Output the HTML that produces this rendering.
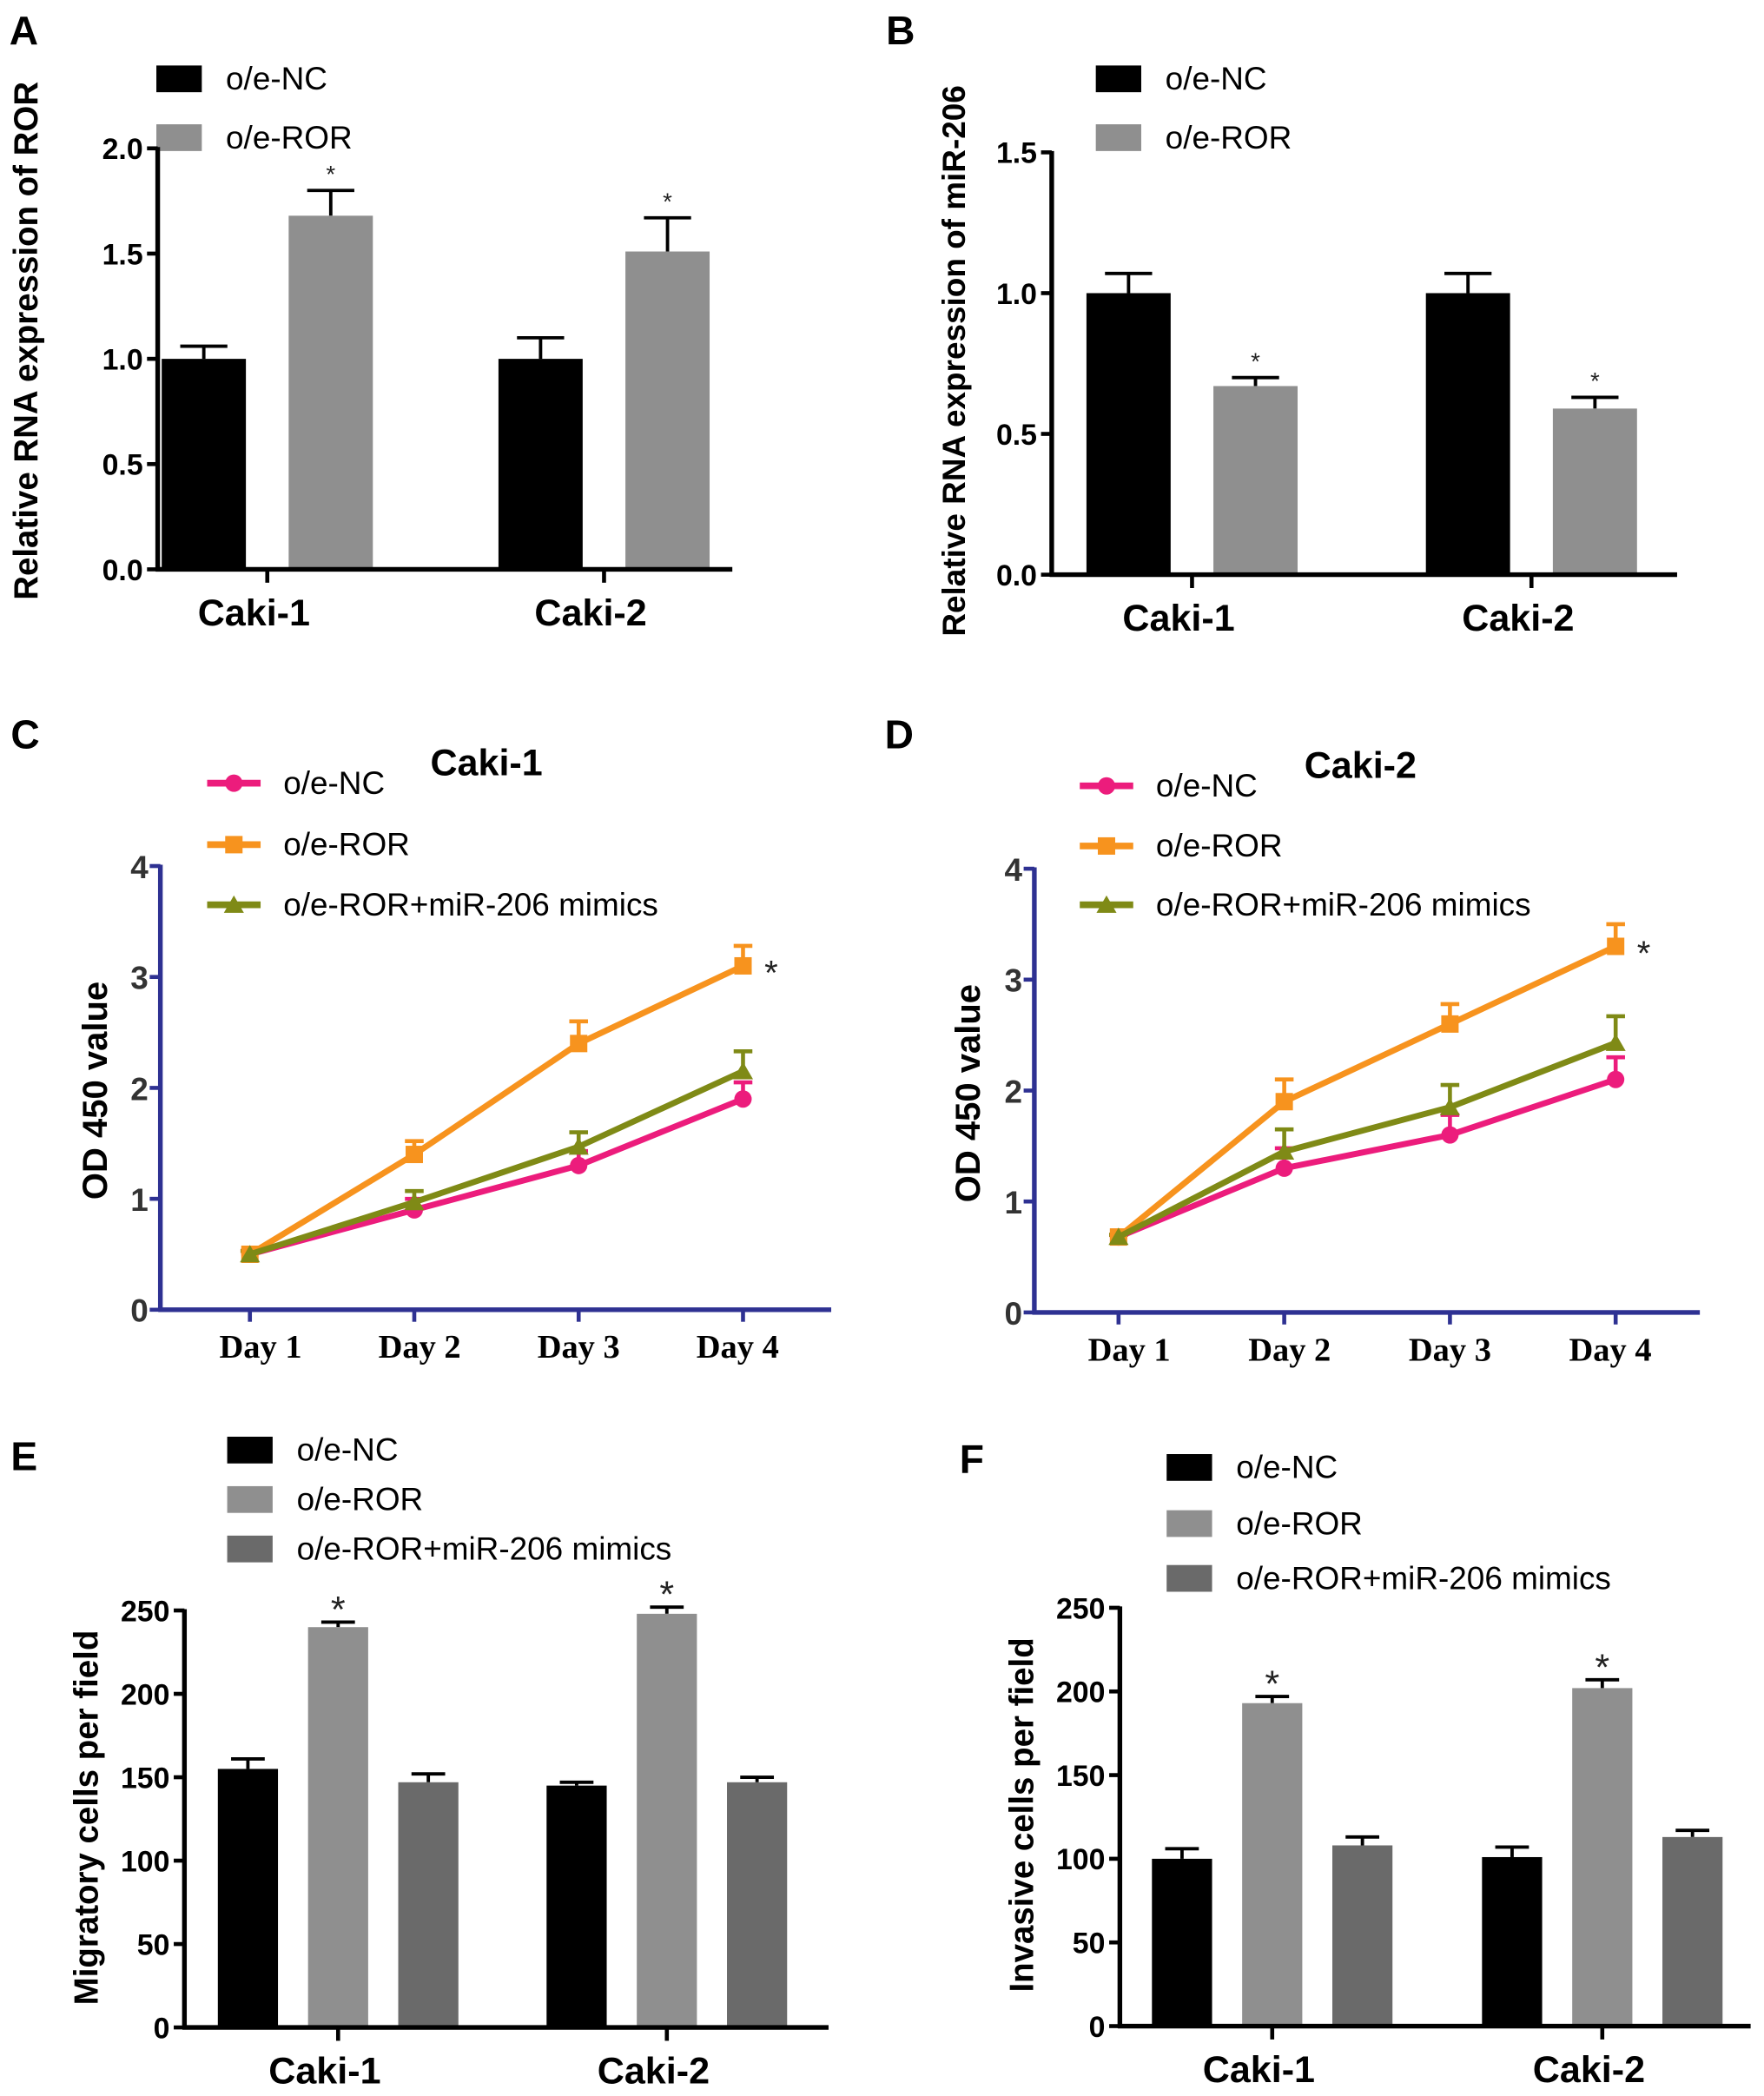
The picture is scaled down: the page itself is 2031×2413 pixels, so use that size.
<!DOCTYPE html>
<html><head><meta charset="utf-8"><style>
html,body{margin:0;padding:0;background:#fff;}
svg{display:block;}
text{font-family:"Liberation Sans",Arial,sans-serif;}
</style></head><body>
<svg id="fig" xmlns="http://www.w3.org/2000/svg" width="2031" height="2413" viewBox="0 0 1320 1568.3"></svg>
<script>
// ---------- Data ----------
const barCats = ["Caki-1", "Caki-2"];
const aTicks = [0, 0.5, 1.0, 1.5, 2.0];
const aNC = [1.0, 1.0];
const aNCErr = [0.06, 0.10];
const aROR = [1.68, 1.51];
const aRORErr = [0.12, 0.16];
const bTicks = [0, 0.5, 1.0, 1.5];
const bNC = [1.0, 1.0];
const bNCErr = [0.07, 0.07];
const bROR = [0.67, 0.59];
const bRORErr = [0.03, 0.04];
const days = ["Day 1", "Day 2", "Day 3", "Day 4"];
const odTicks = [0, 1, 2, 3, 4];
const cNC = [0.5, 0.9, 1.3, 1.9];
const cNCErr = [0.03, 0.1, 0.13, 0.15];
const cROR = [0.5, 1.4, 2.4, 3.1];
const cRORErr = [0.03, 0.12, 0.2, 0.18];
const cMim = [0.5, 0.97, 1.47, 2.15];
const cMimErr = [0.03, 0.1, 0.13, 0.18];
const dNC = [0.68, 1.3, 1.6, 2.1];
const dNCErr = [0.02, 0.18, 0.18, 0.2];
const dROR = [0.68, 1.9, 2.6, 3.3];
const dRORErr = [0.02, 0.2, 0.18, 0.2];
const dMim = [0.68, 1.45, 1.85, 2.43];
const dMimErr = [0.02, 0.2, 0.2, 0.24];
const cellTicks = [0, 50, 100, 150, 200, 250];
const eNC = [155, 145];
const eNCErr = [6, 2];
const eROR = [240, 248];
const eRORErr = [3, 4];
const eMim = [147, 147];
const eMimErr = [5, 3];
const fNC = [100, 101];
const fNCErr = [6, 6];
const fROR = [193, 202];
const fRORErr = [4, 5];
const fMim = [108, 113];
const fMimErr = [5, 4];

const NS = "http://www.w3.org/2000/svg";
const svg = document.getElementById("fig");
function mk(tag, attrs, parent) {
  const e = document.createElementNS(NS, tag);
  for (const k in attrs) e.setAttribute(k, attrs[k]);
  (parent || svg).appendChild(e);
  return e;
}
function txt(s, attrs, parent) { const t = mk("text", attrs, parent); t.textContent = s; return t; }

function panelLetter(ch, x, y) {
  const t = txt(ch, {x: x, y: y, "font-size": 30, "font-weight": "bold"});
  
  
}

// ---------- Bar chart ----------
function barChart(p) {
  const g = mk("g", {});
  
  
  const y = v => p.y0 - (v - p.ticks[0]) / (p.ticks[p.ticks.length - 1] - p.ticks[0]) * (p.y0 - p.yTop);
  p.series.forEach((s, i) => {
    const r = mk("rect", {x: p.legX, y: p.legY[i] - 10, width: 34, height: 20, fill: s.color}, g);
    
    
    const t = txt(s.label, {x: p.legX + 52, y: p.legY[i] + 8, "font-size": 24}, g);
    
    
  });
  const n = p.series.length;
  p.centers.forEach((cx, ci) => {
    p.series.forEach((s, si) => {
      const bx = cx + (si - (n - 1) / 2) * p.pitch - p.bw / 2;
      const v = s.values[ci], e = s.err[ci];
      const ey = y(v + e);
      const el = mk("line", {x1: bx + p.bw / 2, x2: bx + p.bw / 2, y1: y(v), y2: ey, stroke: "#000", "stroke-width": 2.5}, g);
      
      
      const ec = mk("line", {x1: bx + p.bw / 2 - p.bw * 0.28, x2: bx + p.bw / 2 + p.bw * 0.28, y1: ey, y2: ey, stroke: "#000", "stroke-width": 2.5}, g);
      
      
      const b = mk("rect", {x: bx, y: y(v), width: p.bw, height: p.y0 - y(v), fill: s.color}, g);
      
      
      if (s.star) {
        const st = txt("*", {x: bx + p.bw / 2, y: ey - p.starGap, "font-size": p.starSize, "text-anchor": "middle", fill: "#222"}, g);
        
        
      }
    });
    const tk = mk("line", {x1: cx, x2: cx, y1: p.y0, y2: p.y0 + 10, stroke: "#000", "stroke-width": 3}, g);
    
    
    const cl = txt(barCats[ci], {x: cx - 10, y: p.y0 + 42, "font-size": 28, "font-weight": "bold", "text-anchor": "middle"}, g);
    
    
  });
  const ya = mk("line", {x1: p.x0, x2: p.x0, y1: p.yTop - 1, y2: p.y0 + 1.5, stroke: "#000", "stroke-width": 3.5}, g);
  
  
  const xa = mk("line", {x1: p.x0 - 1.5, x2: p.xEnd, y1: p.y0, y2: p.y0, stroke: "#000", "stroke-width": 3.5}, g);
  
  
  p.ticks.forEach(t => {
    const l = mk("line", {x1: p.x0 - 8, x2: p.x0, y1: y(t), y2: y(t), stroke: "#000", "stroke-width": 3}, g);
    
    
    const lab = txt(p.fmt(t), {x: p.x0 - 11, y: y(t) + 8, "font-size": 22, "font-weight": "bold", "text-anchor": "end"}, g);
    
    
  });
  const yt = txt(p.ytitle, {x: 0, y: 0, "font-size": p.ytSize, "font-weight": "bold", "text-anchor": "middle", transform: "translate(" + p.ytX + "," + p.ytY + ") rotate(-90)"}, g);
  
  
}

// ---------- Line chart ----------
function lineChart(p) {
  const g = mk("g", {});
  
  
  const navy = "#2e3192";
  const y = v => p.y0 - v / 4 * (p.y0 - p.yTop);
  const x = i => p.xs0 + i * p.step;
  const tt = txt(p.title, {x: p.titleX, y: p.titleY, "font-size": 28, "font-weight": "bold"}, g);
  
  
  function marker(kind, cx, cy, color, parent) {
    if (kind === "circle") return mk("circle", {cx: cx, cy: cy, r: 6.5, fill: color}, parent);
    if (kind === "square") return mk("rect", {x: cx - 6.5, y: cy - 6.5, width: 13, height: 13, fill: color}, parent);
    return mk("polygon", {points: (cx) + "," + (cy - 7) + " " + (cx - 7.5) + "," + (cy + 6) + " " + (cx + 7.5) + "," + (cy + 6), fill: color}, parent);
  }
  p.series.forEach((s, i) => {
    const ly = p.legY[i];
    const l = mk("line", {x1: p.legX, x2: p.legX + 40, y1: ly, y2: ly, stroke: s.color, "stroke-width": 5}, g);
    
    
    const m = marker(s.marker, p.legX + 20, ly, s.color, g);
    
    
    const t = txt(s.label, {x: p.legX + 57, y: ly + 8, "font-size": 24}, g);
    
    
  });
  p.series.forEach(s => {
    s.values.forEach((v, i) => {
      const ey = y(v + s.err[i]);
      const e1 = mk("line", {x1: x(i), x2: x(i), y1: y(v), y2: ey, stroke: s.color, "stroke-width": 3}, g);
      
      
      const e2 = mk("line", {x1: x(i) - 7, x2: x(i) + 7, y1: ey, y2: ey, stroke: s.color, "stroke-width": 3}, g);
      
      
    });
  });
  p.series.forEach(s => {
    const pts = s.values.map((v, i) => x(i) + "," + y(v)).join(" ");
    const pl = mk("polyline", {points: pts, fill: "none", stroke: s.color, "stroke-width": 4.5, "stroke-linejoin": "round"}, g);
    
    
    s.values.forEach((v, i) => {
      const m = marker(s.marker, x(i), y(v), s.color, g);
      
      
    });
  });
  const rs = p.series[1];
  const st = txt("*", {x: x(3) + 16, y: y(rs.values[3]) + 14, "font-size": 26, fill: "#222"}, g);
  
  
  const ya = mk("line", {x1: p.x0, x2: p.x0, y1: p.yTop - 1, y2: p.y0 + 1.5, stroke: navy, "stroke-width": 3.5}, g);
  
  
  const xa = mk("line", {x1: p.x0 - 1.5, x2: p.xEnd, y1: p.y0, y2: p.y0, stroke: navy, "stroke-width": 3.5}, g);
  
  
  odTicks.forEach(t => {
    const l = mk("line", {x1: p.x0 - 8, x2: p.x0, y1: y(t), y2: y(t), stroke: navy, "stroke-width": 3}, g);
    
    
    const lab = txt(String(t), {x: p.x0 - 9, y: y(t) + 9, "font-size": 24, "font-weight": "bold", "text-anchor": "end", fill: "#333"}, g);
    
    
  });
  days.forEach((d, i) => {
    const l = mk("line", {x1: x(i), x2: x(i), y1: p.y0, y2: p.y0 + 9, stroke: navy, "stroke-width": 3}, g);
    
    
    const lab = txt(d, {x: x(i) + 8 - i * 4, y: p.y0 + 36, "font-size": 25, "font-weight": "bold", "text-anchor": "middle", style: "font-family:'Liberation Serif',serif"}, g);
    
    
  });
  const yt = txt("OD 450 value", {x: 0, y: 0, "font-size": 26, "font-weight": "bold", "text-anchor": "middle", transform: "translate(" + p.ytX + "," + ((p.y0 + p.yTop) / 2 + 2) + ") rotate(-90)"}, g);
  
  
}

const BLACK = "#000", GRAY = "#8f8f8f", DGRAY = "#6a6a6a";
const f1 = t => t.toFixed(1), f0 = t => String(t);

panelLetter("A", 7, 33);
barChart({name: "panel-a-chart", x0: 118, xEnd: 548, y0: 426, yTop: 111, ticks: aTicks, fmt: f1,
  centers: [200, 452], pitch: 95, bw: 63, legX: 117, legY: [59, 103], starGap: 6, starSize: 18,
  ytitle: "Relative RNA expression of ROR", ytX: 28, ytY: 255, ytSize: 25,
  series: [{key: "oe-nc", label: "o/e-NC", color: BLACK, values: aNC, err: aNCErr},
           {key: "oe-ror", label: "o/e-ROR", color: GRAY, values: aROR, err: aRORErr, star: true}]});

panelLetter("B", 663, 33);
barChart({name: "panel-b-chart", x0: 787, xEnd: 1255, y0: 430, yTop: 114, ticks: bTicks, fmt: f1,
  centers: [892, 1146], pitch: 95, bw: 63, legX: 820, legY: [59, 103], starGap: 6, starSize: 18,
  ytitle: "Relative RNA expression of miR-206", ytX: 722, ytY: 270, ytSize: 24,
  series: [{key: "oe-nc", label: "o/e-NC", color: BLACK, values: bNC, err: bNCErr},
           {key: "oe-ror", label: "o/e-ROR", color: GRAY, values: bROR, err: bRORErr, star: true}]});

panelLetter("C", 8, 560);
lineChart({name: "panel-c-chart", title: "Caki-1", titleX: 322, titleY: 580, x0: 120, xEnd: 622, y0: 980, yTop: 648,
  xs0: 187, step: 123, legX: 155, legY: [586, 632, 677], ytX: 80,
  series: [{key: "oe-nc", label: "o/e-NC", color: "#ec1c7c", marker: "circle", values: cNC, err: cNCErr},
           {key: "oe-ror", label: "o/e-ROR", color: "#f7931e", marker: "square", values: cROR, err: cRORErr},
           {key: "oe-ror-mimics", label: "o/e-ROR+miR-206 mimics", color: "#7f8a16", marker: "triangle", values: cMim, err: cMimErr}]});

panelLetter("D", 662, 560);
lineChart({name: "panel-d-chart", title: "Caki-2", titleX: 976, titleY: 582, x0: 774, xEnd: 1272, y0: 982, yTop: 650,
  xs0: 837, step: 124, legX: 808, legY: [588, 633, 677], ytX: 733,
  series: [{key: "oe-nc", label: "o/e-NC", color: "#ec1c7c", marker: "circle", values: dNC, err: dNCErr},
           {key: "oe-ror", label: "o/e-ROR", color: "#f7931e", marker: "square", values: dROR, err: dRORErr},
           {key: "oe-ror-mimics", label: "o/e-ROR+miR-206 mimics", color: "#7f8a16", marker: "triangle", values: dMim, err: dMimErr}]});

panelLetter("E", 8, 1100);
barChart({name: "panel-e-chart", x0: 138, xEnd: 620, y0: 1517, yTop: 1205, ticks: cellTicks, fmt: f0,
  centers: [253, 499], pitch: 67.5, bw: 45, legX: 170, legY: [1085, 1122, 1159], starGap: 0, starSize: 28,
  ytitle: "Migratory cells per field", ytX: 73, ytY: 1360, ytSize: 25,
  series: [{key: "oe-nc", label: "o/e-NC", color: BLACK, values: eNC, err: eNCErr},
           {key: "oe-ror", label: "o/e-ROR", color: GRAY, values: eROR, err: eRORErr, star: true},
           {key: "oe-ror-mimics", label: "o/e-ROR+miR-206 mimics", color: DGRAY, values: eMim, err: eMimErr}]});

panelLetter("F", 718, 1102);
barChart({name: "panel-f-chart", x0: 838, xEnd: 1310, y0: 1516, yTop: 1203, ticks: cellTicks, fmt: f0,
  centers: [952, 1199], pitch: 67.5, bw: 45, legX: 873, legY: [1098, 1140, 1181], starGap: 0, starSize: 28,
  ytitle: "Invasive cells per field", ytX: 773, ytY: 1358, ytSize: 25,
  series: [{key: "oe-nc", label: "o/e-NC", color: BLACK, values: fNC, err: fNCErr},
           {key: "oe-ror", label: "o/e-ROR", color: GRAY, values: fROR, err: fRORErr, star: true},
           {key: "oe-ror-mimics", label: "o/e-ROR+miR-206 mimics", color: DGRAY, values: fMim, err: fMimErr}]});
</script>
</body></html>
